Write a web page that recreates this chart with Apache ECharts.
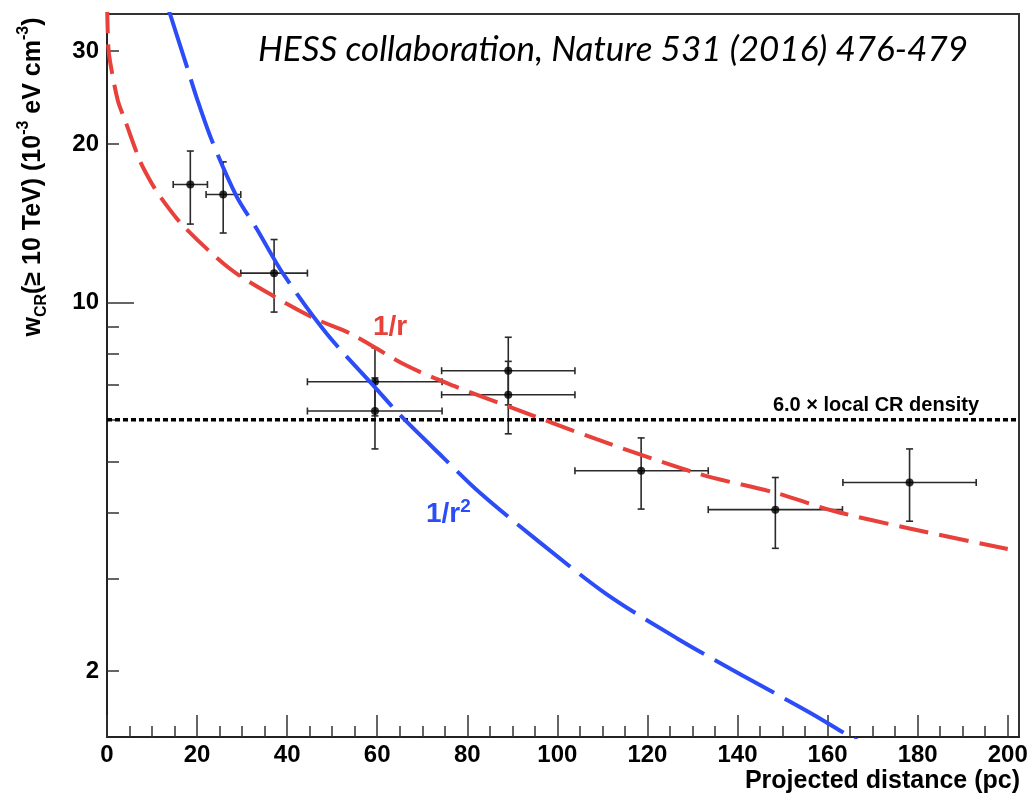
<!DOCTYPE html>
<html><head><meta charset="utf-8">
<script src="https://cdn.jsdelivr.net/npm/echarts@6/dist/echarts.min.js"></script>
<style>html,body{margin:0;padding:0;background:#fff}#c{width:1031px;height:797px}</style>
</head><body><div id="c"></div>
<script>
// ---- data ----
const distCenter = [18.5, 25.8, 37.1, 59.5, 59.5, 89.1, 89.1, 118.6, 148.4, 178.2];
const distLow    = [14.7, 22.0, 29.7, 44.5, 44.5, 74.3, 74.3, 103.9, 133.5, 163.4];
const distHigh   = [22.3, 29.7, 44.5, 74.4, 74.4, 103.9, 103.9, 133.5, 163.3, 193.0];
const wcr        = [16.76, 16.04, 11.38, 7.08, 6.23, 7.43, 6.69, 4.80, 4.05, 4.56];
const wcrLow     = [14.1, 13.56, 9.60, 6.10, 5.28, 6.40, 5.64, 4.06, 3.42, 3.85];
const wcrHigh    = [19.4, 18.5, 13.18, 8.21, 7.20, 8.60, 7.74, 5.54, 4.66, 5.28];

const rRed = [0, 0.3, 0.7, 2.4, 4.0, 7.3, 9.5, 11.8, 16.9, 27.3, 36.9, 46.5, 53.9, 66.5, 76.9, 88.7, 108.7, 131.6, 148.4, 161.2, 178.2, 200];
const wRed = [37, 30.5, 28.6, 24.2, 22.2, 18.6, 17.1, 15.9, 14.0, 11.6, 10.3, 9.3, 8.75, 7.60, 6.96, 6.38, 5.51, 4.73, 4.36, 4.03, 3.73, 3.41];

const rBlue = [13.2, 14.0, 17.7, 19.9, 23.2, 28.8, 33.2, 39.1, 48.8, 59.5, 65.0, 74.6, 82.8, 96.1, 110.9, 126.5, 141.2, 156.0, 166.4, 170];
const wBlue = [37, 35.3, 28.1, 24.5, 20.4, 15.9, 13.83, 11.35, 8.73, 6.91, 6.13, 5.09, 4.36, 3.51, 2.80, 2.31, 1.96, 1.67, 1.48, 1.43];

const localLevel = 6.0;
const xMajorTicks = [0, 20, 40, 60, 80, 100, 120, 140, 160, 180, 200];
const xMinorTicks = [5,10,15,25,30,35,45,50,55,65,70,75,85,90,95,105,110,115,125,130,135,145,150,155,165,170,175,185,190,195];
const yLabelTicks = [2, 10, 20, 30];
const yShortTicks = [2, 3, 4, 5, 6, 7, 8, 9, 20, 30];
const yLongTicks = [10];
const xMin = 0, xMax = 202.5, yMin = 1.5, yMax = 35.3;

const FONT = '"Liberation Sans", Arial, Helvetica, sans-serif';

const errData = distCenter.map((x, i) => [x, wcr[i], distLow[i], distHigh[i], wcrLow[i], wcrHigh[i]]);
const ptData = distCenter.map((x, i) => [x, wcr[i]]);
const redData = rRed.map((r, i) => [r, wRed[i]]);
const blueData = rBlue.map((r, i) => [r, wBlue[i]]);

const chart = echarts.init(document.getElementById('c'));
const axisCommonX = {type: 'value', min: xMin, max: xMax, position: 'bottom', splitLine: {show: false}};
const axisCommonY = {type: 'log', logBase: 10, min: yMin, max: yMax, position: 'left', splitLine: {show: false}};

chart.setOption({
  animation: false,
  grid: {left: 107, top: 14, right: 12, bottom: 60, show: true, borderColor: '#333', borderWidth: 2, backgroundColor: 'transparent'},
  xAxis: [
    Object.assign({}, axisCommonX, {
      axisLine: {show: true, lineStyle: {color: '#222', width: 2}},
      axisTick: {show: true, inside: true, length: 22, customValues: xMajorTicks, lineStyle: {color: '#333', width: 1.5}},
      axisLabel: {show: true, customValues: xMajorTicks, margin: 6, color: '#000', fontSize: 24, fontWeight: 'bold', fontFamily: FONT}
    }),
    Object.assign({}, axisCommonX, {
      axisLine: {show: false},
      axisTick: {show: true, inside: true, length: 11, customValues: xMinorTicks, lineStyle: {color: '#333', width: 1.5}},
      axisLabel: {show: false}
    })
  ],
  yAxis: [
    Object.assign({}, axisCommonY, {
      axisLine: {show: true, lineStyle: {color: '#222', width: 2}},
      axisTick: {show: true, inside: true, length: 12, customValues: yShortTicks, lineStyle: {color: '#333', width: 1.5}},
      axisLabel: {show: true, customValues: yLabelTicks, margin: 8, color: '#000', fontSize: 24, fontWeight: 'bold', fontFamily: FONT}
    }),
    Object.assign({}, axisCommonY, {
      axisLine: {show: false},
      axisTick: {show: true, inside: true, length: 27, customValues: yLongTicks, lineStyle: {color: '#333', width: 1.5}},
      axisLabel: {show: false}
    })
  ],
  series: [
    {
      type: 'custom', xAxisIndex: 0, yAxisIndex: 0, z: 2,
      data: errData,
      renderItem: function (params, api) {
        const x = api.value(0), y = api.value(1);
        const pl = api.coord([api.value(2), y]);
        const pr = api.coord([api.value(3), y]);
        const pb = api.coord([x, api.value(4)]);
        const pt = api.coord([x, api.value(5)]);
        const cap = 3.5;
        const st = {stroke: '#2a2a2a', lineWidth: 1.6};
        const L = (x1, y1, x2, y2) => ({type: 'line', shape: {x1, y1, x2, y2}, style: st});
        return {type: 'group', children: [
          L(pl[0], pl[1], pr[0], pr[1]),
          L(pb[0], pb[1], pt[0], pt[1]),
          L(pl[0], pl[1] - cap, pl[0], pl[1] + cap),
          L(pr[0], pr[1] - cap, pr[0], pr[1] + cap),
          L(pb[0] - cap, pb[1], pb[0] + cap, pb[1]),
          L(pt[0] - cap, pt[1], pt[0] + cap, pt[1])
        ]};
      }
    },
    {
      type: 'scatter', z: 3, data: ptData, symbol: 'circle', symbolSize: 8,
      itemStyle: {color: '#000'}
    },
    {
      type: 'line', z: 4, data: [[xMin, localLevel], [xMax, localLevel]], symbol: 'none',
      lineStyle: {color: '#000', width: 3.5, type: [5, 3]}
    },
    {
      type: 'line', z: 5, data: redData, symbol: 'none', smooth: 0.3, clip: true,
      lineStyle: {color: '#e8403a', width: 4, type: [30, 11]}
    },
    {
      type: 'line', z: 5, data: blueData, symbol: 'none', smooth: 0.3, clip: true,
      lineStyle: {color: '#2b4cf6', width: 4, type: [68, 12]}
    }
  ],
  graphic: [
    {type: 'text', x: 613, y: 50, z: 10, style: {text: 'HESS collaboration, Nature 531 (2016) 476-479', fontFamily: 'Lato, "Open Sans", sans-serif', fontStyle: 'italic', fontSize: 35, fill: '#000', align: 'center', verticalAlign: 'middle'}},
    {type: 'text', x: 373, y: 327, z: 10, style: {text: '1/r', fontFamily: FONT, fontWeight: 'bold', fontSize: 28, fill: '#e8403a', align: 'left', verticalAlign: 'middle'}},
    {type: 'text', x: 426, y: 514, z: 10, style: {text: '{m|1/r}{s|2}', align: 'left', verticalAlign: 'middle',
      rich: {m: {fontFamily: FONT, fontWeight: 'bold', fontSize: 28, fill: '#2b4cf6', lineHeight: 34, verticalAlign: 'middle'},
             s: {fontFamily: FONT, fontWeight: 'bold', fontSize: 19, fill: '#2b4cf6', lineHeight: 16, verticalAlign: 'top'}}}},
    {type: 'text', x: 876, y: 405, z: 10, style: {text: '6.0 \u00d7 local CR density', fontFamily: FONT, fontWeight: 'bold', fontSize: 20, fill: '#000', align: 'center', verticalAlign: 'middle'}},
    {type: 'text', x: 1020, y: 781, z: 10, style: {text: 'Projected distance (pc)', fontFamily: FONT, fontWeight: 'bold', fontSize: 25, fill: '#000', align: 'right', verticalAlign: 'middle'}},
    {type: 'text', x: 33, y: 177, rotation: Math.PI / 2, z: 10, style: {
      text: '{m|w}{b|CR}{m|(\u2265 10 TeV) (10}{t|-3}{m| eV cm}{t|-3}{m|)}', align: 'center', verticalAlign: 'middle',
      rich: {
        m: {fontFamily: FONT, fontWeight: 'bold', fontSize: 25, fill: '#000', lineHeight: 34, verticalAlign: 'middle'},
        b: {fontFamily: FONT, fontWeight: 'bold', fontSize: 16, fill: '#000', lineHeight: 16, verticalAlign: 'bottom'},
        t: {fontFamily: FONT, fontWeight: 'bold', fontSize: 16, fill: '#000', lineHeight: 16, verticalAlign: 'top'}
      }}}
  ]
});
</script>
</body></html>
